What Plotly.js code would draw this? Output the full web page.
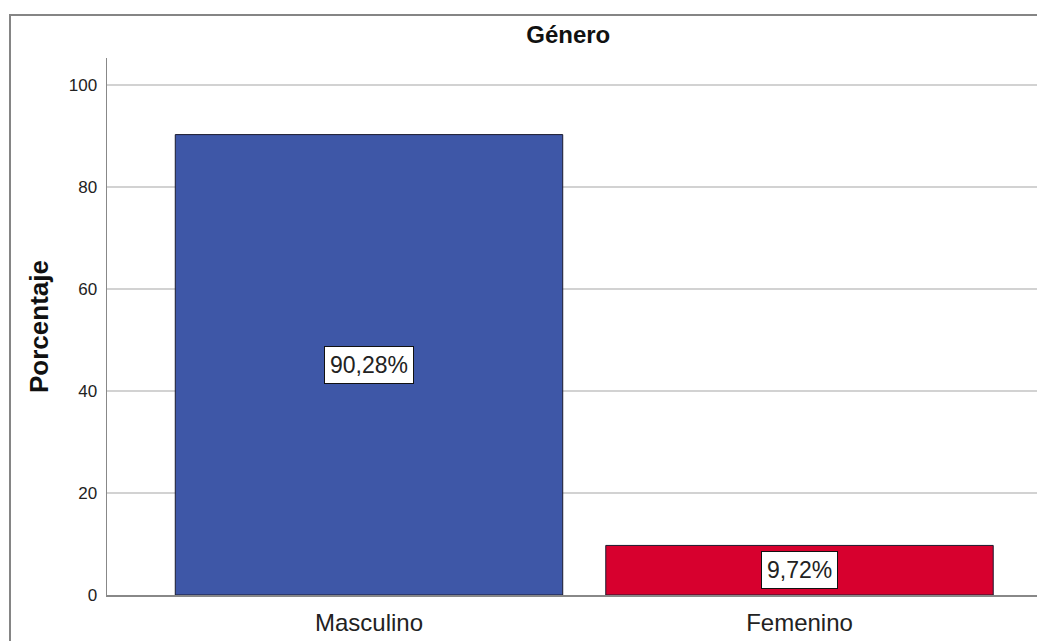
<!DOCTYPE html>
<html>
<head>
<meta charset="utf-8">
<script src="https://cdn.plot.ly/plotly-3.0.1.min.js"></script>
<style>
html,body{margin:0;padding:0;background:#fff;overflow:hidden;}
#wrap{position:relative;width:1037px;height:641px;}
#chart{width:1037px;height:641px;}
#frame{position:absolute;left:9px;top:14px;width:1100px;height:700px;border-left:2px solid #858585;border-top:2px solid #858585;pointer-events:none;}
</style>
</head>
<body>
<div id="wrap">
<div id="chart"></div>
<div id="frame"></div>
</div>
<script>
// Data
const categories = ["Masculino", "Femenino"];
const percentages = [90.28, 9.72];
const valueLabels = ["90,28%", "9,72%"];
const barColors = ["#3e57a7", "#d7002e"];
const yTickValues = [0, 20, 40, 60, 80, 100];

const FONT = "Liberation Sans, Arial, sans-serif";

const trace = {
  type: "bar",
  x: categories,
  y: percentages,
  width: 0.9,
  marker: {color: barColors, line: {color: "#1a1a2e", width: 1}},
  hoverinfo: "none"
};

const annotations = categories.map((c, i) => ({
  x: c, y: percentages[i] / 2,
  xref: "x", yref: "y",
  text: valueLabels[i],
  showarrow: false,
  font: {family: FONT, size: 23, color: "#222"},
  bgcolor: "#ffffff",
  bordercolor: "#111",
  borderwidth: 1,
  borderpad: 5
}));

const layout = {
  width: 1037, height: 641,
  margin: {l: 107, r: 0, t: 58, b: 46},
  paper_bgcolor: "#ffffff",
  plot_bgcolor: "#ffffff",
  showlegend: false,
  title: {
    text: "<b>Género</b>",
    font: {family: FONT, size: 24, color: "#111"},
    x: 0.548, xanchor: "center",
    y: 1 - 35 / 641, yref: "container", yanchor: "middle"
  },
  xaxis: {
    type: "category",
    range: [-0.6086, 1.5517],
    showgrid: false,
    showline: true, linecolor: "#888", linewidth: 1.5,
    ticks: "",
    tickfont: {family: FONT, size: 24, color: "#222"},
    ticklabelstandoff: 6,
    zeroline: false,
    fixedrange: true
  },
  yaxis: {
    range: [0, 105.3],
    tickvals: yTickValues,
    ticktext: yTickValues.map(String),
    showgrid: true, gridcolor: "#d2d2d2", gridwidth: 1.5,
    showline: true, linecolor: "#888", linewidth: 1.5,
    zeroline: false,
    ticks: "",
    ticklabelstandoff: 5,
    tickfont: {family: FONT, size: 17, color: "#222"},
    title: {text: "<b>Porcentaje</b>", font: {family: FONT, size: 26, color: "#111"}, standoff: 12},
    fixedrange: true
  },
  annotations: annotations,
  bargap: 0.1
};

Plotly.newPlot("chart", [trace], layout, {displayModeBar: false, staticPlot: true});
</script>
</body>
</html>
